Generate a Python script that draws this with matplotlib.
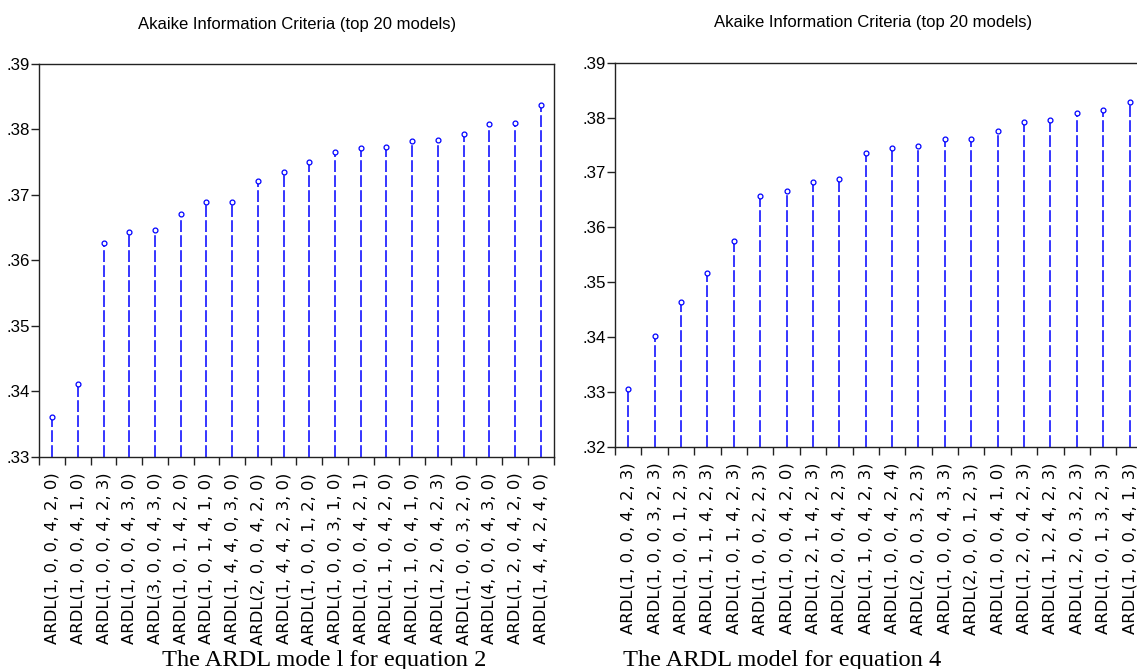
import matplotlib
matplotlib.use("Agg")
import matplotlib.pyplot as plt
from matplotlib.ticker import FixedLocator, FuncFormatter

plt.rcParams["lines.scale_dashes"] = False

# Akaike Information Criteria of the top 20 ARDL specifications, equation 2
models_eq2 = [
    "ARDL(1, 0, 0, 4, 2, 0)", "ARDL(1, 0, 0, 4, 1, 0)", "ARDL(1, 0, 0, 4, 2, 3)",
    "ARDL(1, 0, 0, 4, 3, 0)", "ARDL(3, 0, 0, 4, 3, 0)", "ARDL(1, 0, 1, 4, 2, 0)",
    "ARDL(1, 0, 1, 4, 1, 0)", "ARDL(1, 4, 4, 0, 3, 0)", "ARDL(2, 0, 0, 4, 2, 0)",
    "ARDL(1, 4, 4, 2, 3, 0)", "ARDL(1, 0, 0, 1, 2, 0)", "ARDL(1, 0, 0, 3, 1, 0)",
    "ARDL(1, 0, 0, 4, 2, 1)", "ARDL(1, 1, 0, 4, 2, 0)", "ARDL(1, 1, 0, 4, 1, 0)",
    "ARDL(1, 2, 0, 4, 2, 3)", "ARDL(1, 0, 0, 3, 2, 0)", "ARDL(4, 0, 0, 4, 3, 0)",
    "ARDL(1, 2, 0, 4, 2, 0)", "ARDL(1, 4, 4, 2, 4, 0)",
]
aic_eq2 = [
    0.3361, 0.3411, 0.3627, 0.3644, 0.3646, 0.3671, 0.3689, 0.3689, 0.3722, 0.3735,
    0.3750, 0.3766, 0.3771, 0.3773, 0.3782, 0.3784, 0.3793, 0.3809, 0.3810, 0.3837,
]
yticks_eq2 = [0.33, 0.34, 0.35, 0.36, 0.37, 0.38, 0.39]

# Akaike Information Criteria of the top 20 ARDL specifications, equation 4
models_eq4 = [
    "ARDL(1, 0, 0, 4, 2, 3)", "ARDL(1, 0, 0, 3, 2, 3)", "ARDL(1, 0, 0, 1, 2, 3)",
    "ARDL(1, 1, 1, 4, 2, 3)", "ARDL(1, 0, 1, 4, 2, 3)", "ARDL(1, 0, 0, 2, 2, 3)",
    "ARDL(1, 0, 0, 4, 2, 0)", "ARDL(1, 2, 1, 4, 2, 3)", "ARDL(2, 0, 0, 4, 2, 3)",
    "ARDL(1, 1, 0, 4, 2, 3)", "ARDL(1, 0, 0, 4, 2, 4)", "ARDL(2, 0, 0, 3, 2, 3)",
    "ARDL(1, 0, 0, 4, 3, 3)", "ARDL(2, 0, 0, 1, 2, 3)", "ARDL(1, 0, 0, 4, 1, 0)",
    "ARDL(1, 2, 0, 4, 2, 3)", "ARDL(1, 1, 2, 4, 2, 3)", "ARDL(1, 2, 0, 3, 2, 3)",
    "ARDL(1, 0, 1, 3, 2, 3)", "ARDL(1, 0, 0, 4, 1, 3)",
]
aic_eq4 = [
    0.3305, 0.3401, 0.3464, 0.3517, 0.3575, 0.3657, 0.3667, 0.3683, 0.3688, 0.3735,
    0.3745, 0.3748, 0.3761, 0.3761, 0.3775, 0.3792, 0.3796, 0.3808, 0.3814, 0.3828,
]
yticks_eq4 = [0.32, 0.33, 0.34, 0.35, 0.36, 0.37, 0.38, 0.39]

title_text = "Akaike Information Criteria (top 20 models)"
caption_eq2 = "The ARDL mode l for equation 2"
caption_eq4 = "The ARDL model for equation 4"

SANS = ["Liberation Sans", "DejaVu Sans"]
SERIF = ["Liberation Serif", "DejaVu Serif"]
STEM_BLUE = "#0000FF"

W, H = 1137, 669
fig = plt.figure(figsize=(W / 100, H / 100), dpi=100)


def px_axes(x0, x1, ytop, ybot):
    return fig.add_axes([x0 / W, 1 - ybot / H, (x1 - x0) / W, (ybot - ytop) / H])


def draw_panel(ax, labels, values, yticks):
    n = len(values)
    xs = list(range(n))
    ymin, ymax = yticks[0], yticks[-1]
    ax.vlines(xs, ymin, values, colors=STEM_BLUE, linewidth=1.1,
              linestyles=(0, (8.5, 2.3)), zorder=2)
    ax.plot(xs, values, linestyle="none", marker="o", ms=3.5, mfc="white",
            mec=STEM_BLUE, mew=0.9, zorder=3, clip_on=False)
    ax.set_xlim(-0.5, n - 0.5)
    ax.set_ylim(ymin, ymax)

    ax.xaxis.set_major_locator(FixedLocator(xs))
    ax.set_xticklabels(labels, rotation=90, family="DejaVu Sans", fontsize=11.8)
    ax.xaxis.set_minor_locator(FixedLocator([i - 0.5 for i in range(n + 1)]))
    ax.tick_params(axis="x", which="major", length=0, pad=11.5)
    ax.tick_params(axis="x", which="minor", length=5.8, width=1.0, direction="out",
                   color="#222222")

    ax.set_yticks(yticks)
    ax.yaxis.set_major_formatter(FuncFormatter(lambda v, p: f"{v:.2f}".lstrip("0")))
    ax.tick_params(axis="y", length=5.8, width=1.0, direction="out", pad=1.0,
                   color="#222222")
    for t in ax.get_yticklabels():
        t.set_family(SANS)
        t.set_fontsize(12.2)
    for s in ax.spines.values():
        s.set_linewidth(1.0)
        s.set_color("#222222")


ax1 = px_axes(39.3, 553.5, 64.0, 456.7)
draw_panel(ax1, models_eq2, aic_eq2, yticks_eq2)

ax2 = px_axes(615.0, 1142.8, 62.7, 446.7)
draw_panel(ax2, models_eq4, aic_eq4, yticks_eq4)

fig.text(297 / W, 1 - 24 / H, title_text, ha="center", va="center",
         family=SANS, fontsize=12)
fig.text(873.5 / W, 1 - 23 / H, title_text, ha="center", va="center",
         family=SANS, fontsize=12)

fig.text(162 / W, 1 - 666 / H, caption_eq2, ha="left", va="baseline",
         family=SERIF, fontsize=17.6)
fig.text(623 / W, 1 - 666 / H, caption_eq4, ha="left", va="baseline",
         family=SERIF, fontsize=17.6)

fig.savefig("out.png", dpi=100, facecolor="white")
